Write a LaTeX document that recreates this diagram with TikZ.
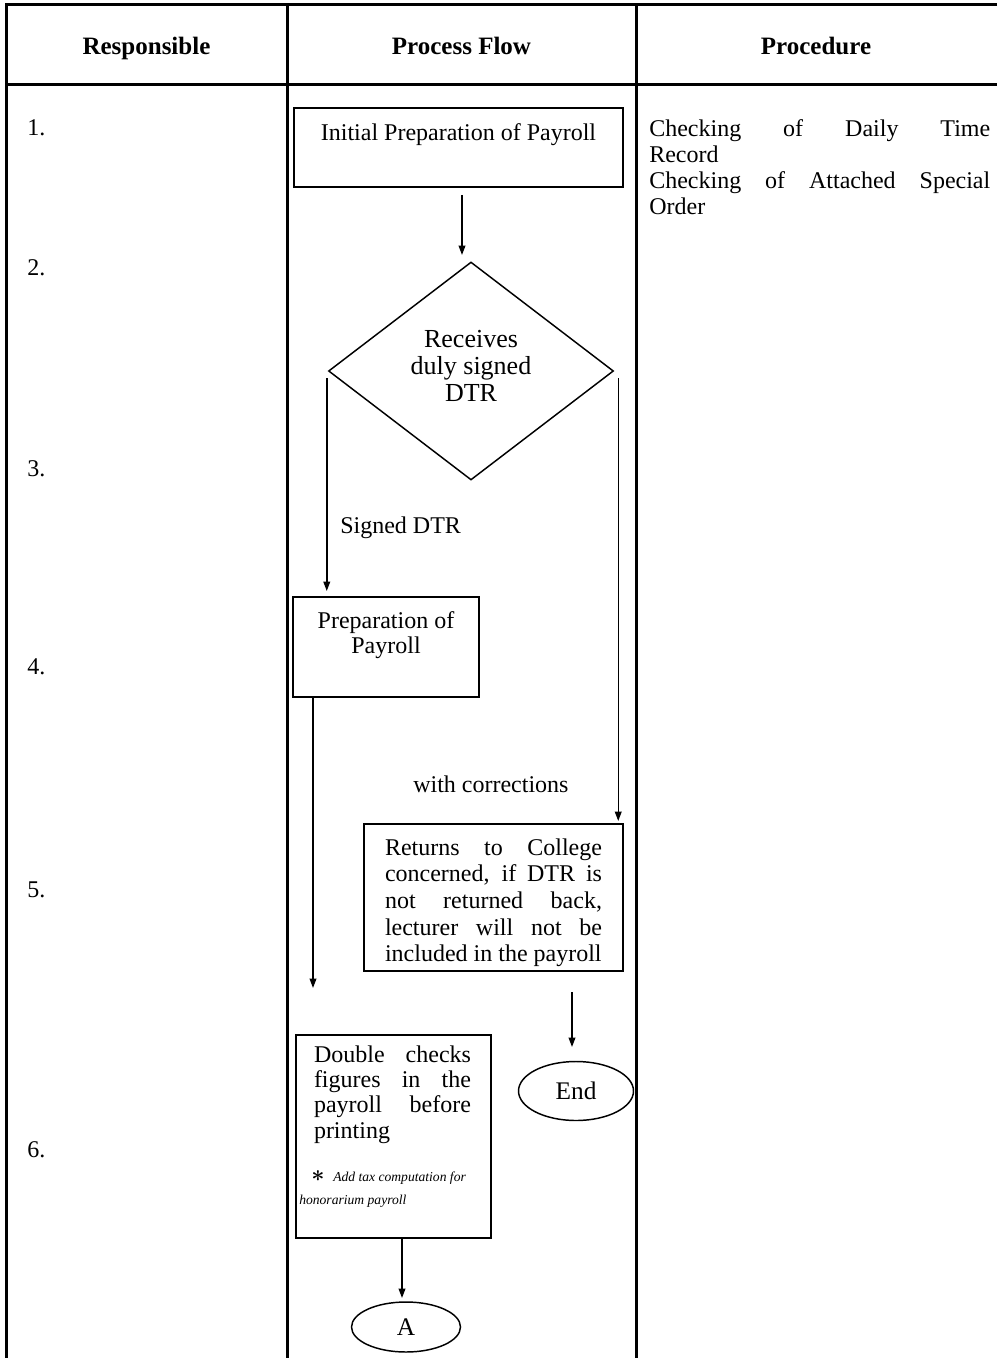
\documentclass[tikz,border=0pt]{standalone}
\usepackage{fontspec}
\setmainfont{Liberation Serif}
\usetikzlibrary{arrows.meta,shapes.geometric,calc}
% one drawing unit = one pixel of a 96 dpi page
\newdimen\pxd \pxd=0.75pt
\newcommand\upx{*0.75pt}
\newcommand\bodyfont{\fontsize{18}{19.5}\selectfont}
\newcommand\headfont{\bfseries\fontsize{18.75}{20}\selectfont}
\newcommand\decfont{\fontsize{19.5}{20.25}\selectfont}
\newcommand\notefont{\fontsize{10.2}{17.25}\selectfont}
\tikzset{
  grid/.style={line width=2.25pt},
  box/.style={draw, line width=1.5pt, inner sep=0pt, anchor=north west, font=\bodyfont},
  flow/.style={line width=1.1pt, -{Triangle[length=7pt,width=5pt]}},
  txt/.style={inner sep=0pt, anchor=base west, font=\bodyfont},
  head/.style={inner sep=0pt, anchor=base, font=\headfont},
  term/.style={ellipse, draw, line width=1.1pt, inner sep=0pt, font=\fontsize{19}{20}\selectfont},
}
\begin{document}
\begin{tikzpicture}[x=0.75pt,y=-0.75pt]
\useasboundingbox (0,0) rectangle (997,1358);

% table rules
\draw[grid] (997,5) -- (6,5) -- (6,1358);
\draw[grid] (6,85) -- (997,85);
\draw[grid] (287,5) -- (287,1358);
\draw[grid] (636,5) -- (636,1358);

% column heads
\node[head] (h1) at (146.5,55) {Responsible};
\node[head] (h2) at (461.5,55) {Process Flow};
\node[head] (h3) at (816,55) {Procedure};

% step numbers
\node[txt] (n1) at (27,136) {1.};
\node[txt] (n2) at (27,276) {2.};
\node[txt] (n3) at (27,476) {3.};
\node[txt] (n4) at (27,674) {4.};
\node[txt] (n5) at (27,897) {5.};
\node[txt] (n6) at (27,1157) {6.};

% procedure column
\node[txt] (proc) at (649,137) {\parbox[t]{341\pxd}{%
  \makebox[341\pxd][s]{Checking of Daily Time}\\
  Record\\
  \makebox[341\pxd][s]{Checking of Attached Special}\\
  Order}};

% process flow
\node[box] (init) at (293,107) {\parbox[t][79\pxd][t]{329\pxd}{\centering
  \rule{0pt}{33\pxd}Initial Preparation of Payroll}};

\node[diamond, draw, line width=1.1pt, inner sep=0pt,
      minimum width=285\upx, minimum height=218\upx] (dec) at (471,371) {};
\node[inner sep=0pt, anchor=base, font=\decfont] (dectxt) at (471,348)
  {\parbox[t]{160\pxd}{\centering Receives\\duly signed\\DTR}};

\node[box] (prep) at (292,596) {\parbox[t][100\pxd][t]{186\pxd}{\centering
  \fontsize{18}{18.75}\selectfont
  \rule{0pt}{31\pxd}Preparation of\\Payroll}};

\node[box] (ret) at (363,823) {\parbox[t][147\pxd][t]{259\pxd}{\centering
  \fontsize{18}{20}\selectfont
  \rule{0pt}{31\pxd}\makebox[217\pxd][s]{Returns to College}\\
  \makebox[217\pxd][s]{concerned, if DTR is}\\
  \makebox[217\pxd][s]{not returned back,}\\
  \makebox[217\pxd][s]{lecturer will not be}\\
  \makebox[217\pxd][l]{included in the payroll}}};

\node[term, minimum width=115\upx, minimum height=59\upx] (end) at (576,1091) {End};

\node[box] (dbl) at (295,1034) {\parbox[t][203\pxd][t]{195\pxd}{%
  \fontsize{18}{19.1}\selectfont
  \rule{0pt}{27\pxd}\hspace*{18\pxd}\makebox[157\pxd][s]{Double checks}\\
  \hspace*{18\pxd}\makebox[157\pxd][s]{figures in the}\\
  \hspace*{18\pxd}\makebox[157\pxd][s]{payroll before}\\
  \hspace*{18\pxd}printing}};
\node[inner sep=0pt, anchor=base west, font=\notefont] (note) at (299,1181)
  {\parbox[t]{185\pxd}{\hspace*{12\pxd}\makebox[22\pxd][l]{\fontsize{16}{16}\selectfont\boldmath$\ast$}%
  \itshape Add tax computation for\\honorarium payroll}};

\node[term, minimum width=109\upx, minimum height=50\upx] (a) at (406,1327) {A};

% connectors
\draw[flow] ($(init.south)+(3.5,7)$) -- ($(init.south)+(3.5,67)$);
\draw[flow] ($(dec.west)+(-1,7)$) -- ($(dec.west |- prep.north)+(-1,-5)$);
\node[txt] (lbl1) at (340,533) {Signed DTR};
\draw[flow] ($(dec.east)+(4,7)$) -- ($(dec.east |- ret.north)+(4,-2)$);
\node[txt] (lbl2) at (413,792) {with corrections};
\draw[flow] ($(prep.south west)+(21,0)$) -- ($(prep.south west)+(21,290)$);
\draw[flow] ($(ret.south)+(78.5,20)$) -- ($(ret.south)+(78.5,75)$);
\draw[flow] ($(dbl.south)+(8.5,0)$) -- ($(dbl.south)+(8.5,59)$);
\end{tikzpicture}
\end{document}
